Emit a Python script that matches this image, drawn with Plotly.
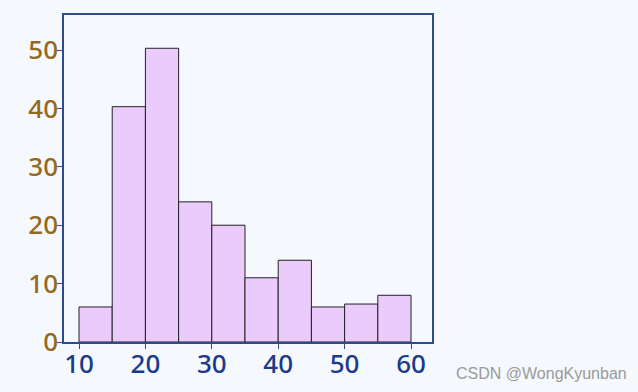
import plotly.graph_objects as go

bin_starts = [10, 15, 20, 25, 30, 35, 40, 45, 50, 55]
bin_width = 5
counts = [6, 40.3, 50.3, 24, 20, 11, 14, 6, 6.5, 8]
x_ticks = [10, 20, 30, 40, 50, 60]
y_ticks = [0, 10, 20, 30, 40, 50]

centers = [s + bin_width / 2 for s in bin_starts]

fig = go.Figure(go.Bar(
    x=centers, y=counts, width=[bin_width] * len(centers),
    marker=dict(color="#ebcbfb", line=dict(color="#222222", width=1)),
))

axis_col = "#2e4a8a"
fig.update_layout(
    width=638, height=392,
    margin=dict(l=64, r=206, t=15, b=50, autoexpand=False),
    paper_bgcolor="#f5f8fd", plot_bgcolor="#f5f8fd",
    showlegend=False,
    font=dict(family="Noto Sans", size=26),
    xaxis=dict(range=[7.74, 63.16], tickvals=x_ticks, showgrid=False, zeroline=False,
               showline=True, linecolor=axis_col, linewidth=1.5, mirror=True,
               ticks="outside", ticklen=5, tickcolor=axis_col, automargin=False,
               ticklabelstandoff=-7,
               tickfont=dict(color="#1b3a8c", size=26, family="Noto Sans", weight=500)),
    yaxis=dict(range=[0, 56], tickvals=y_ticks, showgrid=False, zeroline=False,
               showline=True, linecolor=axis_col, linewidth=1.5, mirror=True,
               ticks="outside", ticklen=5, tickcolor=axis_col, automargin=False,
               ticklabelstandoff=-6,
               tickfont=dict(color="#94691e", size=26, family="Noto Sans", weight=500)),
    annotations=[dict(text="CSDN @WongKyunban", xref="paper", yref="paper",
                      x=1.0, y=0, xanchor="left", yanchor="top",
                      xshift=22, yshift=-21, showarrow=False,
                      font=dict(family="Liberation Sans", size=16, color="#9a9a9a"))],
)

fig.write_html(
    "out.html",
    config={"displayModeBar": False},
    post_script="document.body.style.margin='0';document.body.style.background='#f5f8fd';document.body.style.overflow='hidden';",
)
